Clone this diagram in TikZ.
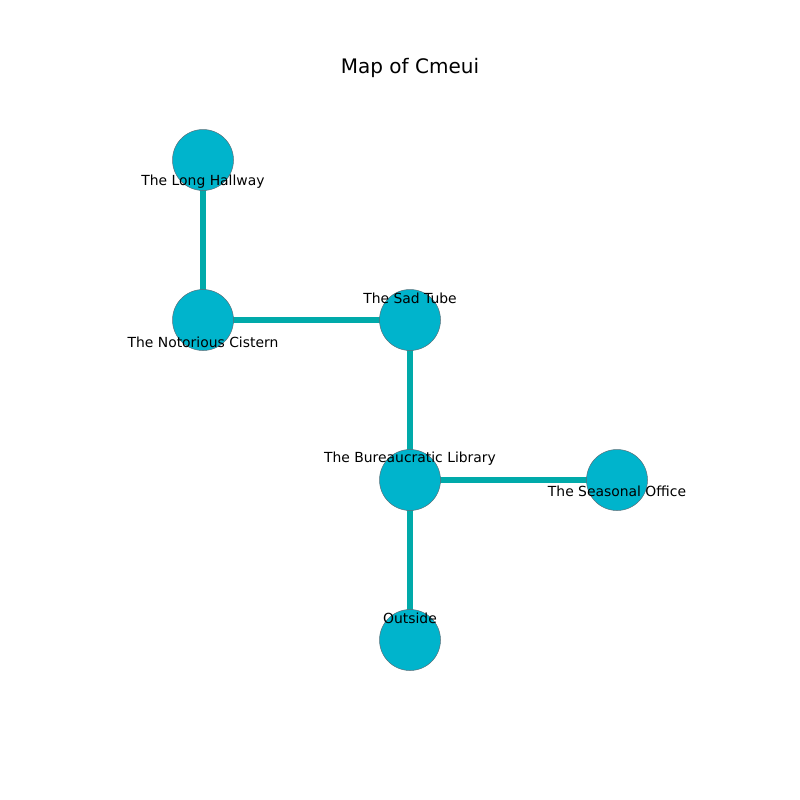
\documentclass[tikz,border=0pt]{standalone}
\usepackage{fontspec}
\setmainfont{DejaVu Sans}
\definecolor{nodefill}{RGB}{0,180,204}
\definecolor{edgecol}{RGB}{0,170,170}
\definecolor{nodeline}{RGB}{90,110,120}
\begin{document}
\begin{tikzpicture}[x=1pt,y=-1pt,
  room/.style={circle,fill=nodefill,draw=nodeline,line width=0.5pt,minimum size=61pt,inner sep=0pt},
  lbl/.style={font=\fontsize{13.9pt}{16pt}\selectfont,inner sep=0pt,anchor=center},
  link/.style={draw=edgecol,line width=5.5pt}]
\useasboundingbox (0,0) rectangle (800,800);
\node[font=\fontsize{20pt}{24pt}\selectfont] (title) at (410,68) {Map of Cmeui};
\coordinate (pH) at (203,160);
\coordinate (pC) at (203,320);
\coordinate (pT) at (410,320);
\coordinate (pL) at (410,480);
\coordinate (pS) at (617,480);
\coordinate (pO) at (410,640);
\draw[link] (pH) -- (pC);
\draw[link] (pC) -- (pT);
\draw[link] (pT) -- (pL);
\draw[link] (pL) -- (pS);
\draw[link] (pL) -- (pO);
\node[room] (H) at (pH) {};
\node[room] (C) at (pC) {};
\node[room] (T) at (pT) {};
\node[room] (L) at (pL) {};
\node[room] (S) at (pS) {};
\node[room] (O) at (pO) {};
\node[lbl] (lH) at (203,182) {The Long Hallway};
\node[lbl] (lC) at (203,342) {The Notorious Cistern};
\node[lbl] (lT) at (410,298.5) {The Sad Tube};
\node[lbl] (lL) at (410,458.5) {The Bureaucratic Library};
\node[lbl] (lS) at (617,491.5) {The Seasonal Office};
\node[lbl] (lO) at (410,618.5) {Outside};
\end{tikzpicture}
\end{document}
